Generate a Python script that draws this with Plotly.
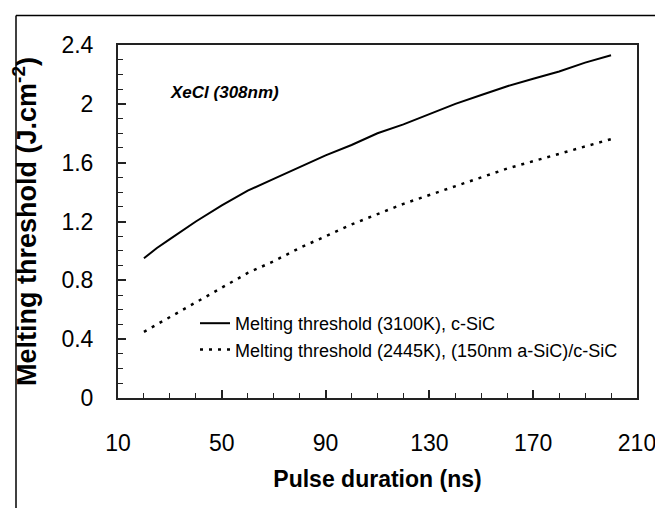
import plotly.graph_objects as go

# Data
pulse_ns = [20, 25, 30, 40, 50, 60, 70, 80, 90, 100, 110, 120, 130, 140, 150, 160, 170, 180, 190, 200]
thr_csic = [0.95, 1.02, 1.08, 1.20, 1.31, 1.41, 1.49, 1.57, 1.65, 1.72, 1.80, 1.86, 1.93, 2.00, 2.06, 2.12, 2.17, 2.22, 2.28, 2.33]
pulse_ns2 = [20, 30, 40, 50, 60, 70, 80, 90, 100, 110, 120, 130, 140, 150, 160, 170, 180, 190, 200]
thr_asic = [0.45, 0.55, 0.65, 0.75, 0.85, 0.93, 1.02, 1.10, 1.18, 1.25, 1.32, 1.38, 1.44, 1.50, 1.56, 1.61, 1.66, 1.71, 1.76]

series_names = ["Melting threshold (3100K), c-SiC",
                "Melting threshold (2445K), (150nm a-SiC)/c-SiC"]
x_ticks = [10, 50, 90, 130, 170, 210]
y_ticks = [0, 0.4, 0.8, 1.2, 1.6, 2, 2.4]
y_tick_text = ["0", "0.4", "0.8", "1.2", "1.6", "2", "2.4"]

FONT = "Liberation Sans, Arial, sans-serif"

W, H = 663, 508
ML, MR, MT, MB = 110, 34, 37, 118
pw, ph = W - ML - MR, H - MT - MB


def px(xp):
    return (xp - ML) / pw


def py(yp):
    return (H - MB - yp) / ph


fig = go.Figure()
fig.add_trace(go.Scatter(x=pulse_ns, y=thr_csic, mode="lines", name=series_names[0],
                         line=dict(color="black", width=2)))
fig.add_trace(go.Scatter(x=pulse_ns2, y=thr_asic, mode="lines", name=series_names[1],
                         line=dict(color="black", width=2.5, dash="3px,6px")))

fig.add_annotation(x=px(160), y=py(84), xref="paper", yref="paper", text="<b><i>XeCl (308nm)</i></b>",
                   showarrow=False, xanchor="left", yanchor="middle",
                   font=dict(family=FONT, size=17, color="black"))

# outer frame
frame = dict(color="black", width=1.5)
fig.add_shape(type="line", xref="paper", yref="paper", x0=px(8), x1=px(661), y0=py(7.5), y1=py(7.5), line=frame)
fig.add_shape(type="line", xref="paper", yref="paper", x0=px(8), x1=px(8), y0=py(7.5), y1=py(508), line=frame)
fig.add_shape(type="line", xref="paper", yref="paper", x0=px(660.5), x1=px(660.5), y0=py(7.5), y1=py(508), line=frame)

fig.update_layout(
    width=W, height=H,
    margin=dict(l=ML, r=MR, t=MT, b=MB, autoexpand=False),
    paper_bgcolor="white", plot_bgcolor="white",
    showlegend=True,
    legend=dict(x=px(187), y=py(297), xanchor="left", yanchor="top",
                font=dict(family=FONT, size=18, color="black"),
                bgcolor="rgba(0,0,0,0)", itemwidth=30, tracegroupgap=0),
    xaxis=dict(range=[10, 210], tickmode="array", tickvals=x_ticks, ticktext=[str(v) for v in x_ticks],
               ticks="inside", ticklen=8, tickwidth=1.5, tickcolor="#222",
               minor=dict(dtick=10, tick0=10, ticks="inside", ticklen=5, tickwidth=1, tickcolor="#222"),
               showline=True, linecolor="#222", linewidth=2, mirror=True, showgrid=False, zeroline=False,
               tickfont=dict(family=FONT, size=23, color="black"), ticklabelstandoff=23,
               title=dict(text="<b>Pulse duration (ns)</b>", standoff=16,
                          font=dict(family=FONT, size=23, color="black"))),
    yaxis=dict(range=[0, 2.4], tickmode="array", tickvals=y_ticks, ticktext=y_tick_text,
               ticks="inside", ticklen=8, tickwidth=1.5, tickcolor="#222",
               minor=dict(dtick=0.1, tick0=0, ticks="inside", ticklen=5, tickwidth=1, tickcolor="#222"),
               showline=True, linecolor="#222", linewidth=2, mirror=True, showgrid=False, zeroline=False,
               tickfont=dict(family=FONT, size=23, color="black"), ticklabelstandoff=18,
               title=dict(text="<b>Melting threshold (J.cm<sup>-2</sup>)</b>", standoff=20,
                          font=dict(family=FONT, size=27, color="black"))),
)

fig.write_html("out.html")
